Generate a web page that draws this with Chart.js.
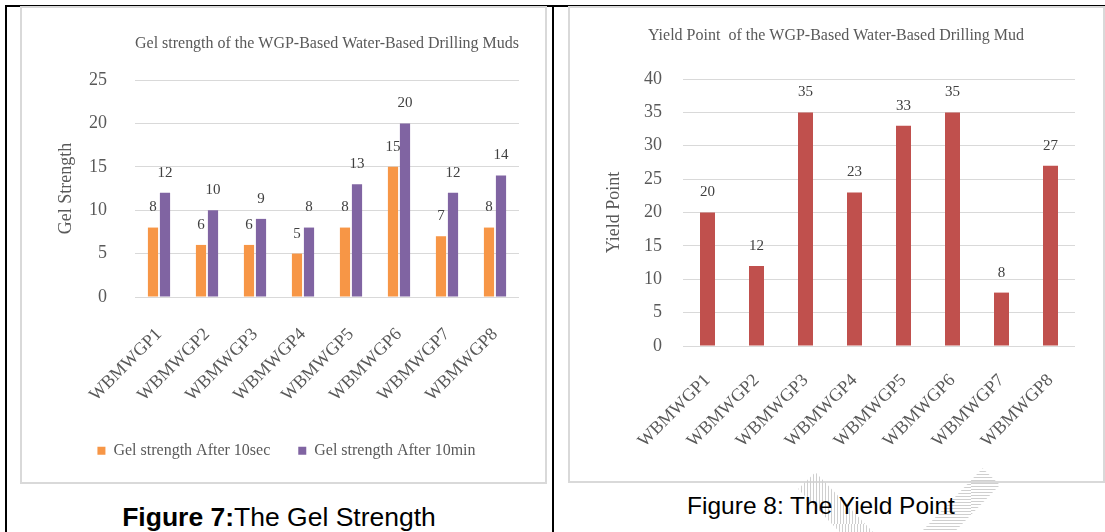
<!DOCTYPE html>
<html><head><meta charset="utf-8">
<script src="https://cdn.jsdelivr.net/npm/chart.js@4/dist/chart.umd.min.js"></script>
<style>
html,body{margin:0;padding:0;background:#fff;}
body{width:1105px;height:532px;position:relative;overflow:hidden;}
.bl{position:absolute;background:#000;}
.frame{position:absolute;box-sizing:border-box;border:2px solid #d9d9d9;}
canvas{position:absolute;}
.cap{position:absolute;font-family:"Liberation Sans",Arial,sans-serif;color:#000;white-space:nowrap;transform:translateX(-50%);}
.wm{position:absolute;width:24px;height:90px;background:repeating-linear-gradient(135deg,#cfcfcf 0 1px,rgba(255,255,255,0) 1px 3px);}
</style></head><body>
<div class="bl" style="left:5px;top:5px;width:1100px;height:2px"></div>
<div class="bl" style="left:5px;top:5px;width:2px;height:527px"></div>
<div class="bl" style="left:552px;top:5px;width:2px;height:527px"></div>
<div class="frame" style="left:20px;top:6px;width:527px;height:478px"></div>
<div class="frame" style="left:568px;top:6px;width:537px;height:477px"></div>
<div class="wm" style="left:826px;top:468px;transform:rotate(-44deg)"></div>
<div class="wm" style="left:948px;top:464px;transform:rotate(44deg)"></div>
<canvas id="gel" width="523" height="474" style="left:22px;top:8px"></canvas>
<canvas id="yp" width="532" height="474" style="left:570px;top:8px"></canvas>
<div class="cap" style="left:279px;top:504px;font-size:26.5px;line-height:26.5px"><b>Figure 7:</b>The Gel Strength</div>
<div class="cap" style="left:821px;top:494px;font-size:24.5px;line-height:24.5px">Figure 8: The Yield Point</div>
<script>
const categories = ['WBMWGP1','WBMWGP2','WBMWGP3','WBMWGP4','WBMWGP5','WBMWGP6','WBMWGP7','WBMWGP8'];
const gelAfter10sec = [8, 6, 6, 5, 8, 15, 7, 8];
const gelAfter10min = [12, 10, 9, 8, 13, 20, 12, 14];
const yieldPoint = [20, 12, 35, 23, 33, 35, 8, 27];
const gelYTicks = [0, 5, 10, 15, 20, 25];
const yieldYTicks = [0, 5, 10, 15, 20, 25, 30, 35, 40];
const seriesNames = ['Gel strength After 10sec', 'Gel strength After 10min'];

const SERIF = '"Liberation Serif","Times New Roman",serif';
const GREY = '#595959';

const valueLabels = {
  id: 'valueLabels',
  afterDatasetsDraw(chart, args, opts) {
    const ctx = chart.ctx;
    ctx.save();
    ctx.font = opts.size + 'px ' + SERIF;
    ctx.fillStyle = opts.color;
    ctx.textAlign = 'center';
    ctx.textBaseline = 'middle';
    chart.data.datasets.forEach((ds, i) => {
      const meta = chart.getDatasetMeta(i);
      meta.data.forEach((bar, j) => {
        ctx.fillText(String(ds.data[j]), bar.x, bar.y - opts.offset);
      });
    });
    ctx.restore();
  }
};

function yAxis(ticks, width, titleText, titlePad, tickPad) {
  return {
    min: ticks[0], max: ticks[ticks.length - 1],
    afterFit(s) { s.width = width; },
    afterBuildTicks(s) { s.ticks = ticks.map(v => ({value: v})); },
    grid: {color: '#d9d9d9', lineWidth: 1, drawTicks: false},
    border: {display: false},
    ticks: {padding: tickPad, color: GREY, font: {family: SERIF, size: 18}},
    title: {display: true, text: titleText, color: GREY, font: {family: SERIF, size: 18}, padding: {top: titlePad, bottom: 0}}
  };
}
function xAxis(height, pad) {
  return {
    afterFit(s) { s.height = height; },
    grid: {display: false, drawTicks: false},
    border: {display: false},
    ticks: {padding: pad, minRotation: 45, maxRotation: 45, autoSkip: false, color: GREY, font: {family: SERIF, size: 18}}
  };
}

new Chart(document.getElementById('gel'), {
  type: 'bar',
  data: {
    labels: categories,
    datasets: [
      {label: seriesNames[0], data: gelAfter10sec, backgroundColor: '#F79646', categoryPercentage: 0.5, barPercentage: 0.85},
      {label: seriesNames[1], data: gelAfter10min, backgroundColor: '#8064A2', categoryPercentage: 0.5, barPercentage: 0.85}
    ]
  },
  options: {
    responsive: false, animation: false, devicePixelRatio: 1,
    layout: {padding: {left: 32, right: 26, top: 0, bottom: 13.3}},
    scales: {x: xAxis(117.7, 27), y: yAxis(gelYTicks, 81, 'Gel Strength', 1, 28)},
    plugins: {
      title: {display: true, fullSize: false, text: 'Gel strength of the WGP-Based Water-Based Drilling Muds', color: GREY,
        font: {family: SERIF, size: 16, weight: 'normal'}, padding: {top: 25.7, bottom: 27.1}},
      legend: {position: 'bottom', labels: {color: GREY, font: {family: SERIF, size: 16}, boxWidth: 8, boxHeight: 8, padding: 28}},
      tooltip: {enabled: false},
      valueLabels: {size: 15, color: '#404040', offset: 20}
    }
  },
  plugins: [valueLabels]
});

new Chart(document.getElementById('yp'), {
  type: 'bar',
  data: {
    labels: categories,
    datasets: [
      {label: 'Yield Point', data: yieldPoint, backgroundColor: '#C0504D', categoryPercentage: 0.34, barPercentage: 0.9}
    ]
  },
  options: {
    responsive: false, animation: false, devicePixelRatio: 1,
    layout: {padding: {left: 27, right: 27, top: 0, bottom: 0}},
    scales: {x: xAxis(136, 24), y: yAxis(yieldYTicks, 86, 'Yield Point', 6.2, 21)},
    plugins: {
      title: {display: true, text: 'Yield Point  of the WGP-Based Water-Based Drilling Mud', color: GREY,
        font: {family: SERIF, size: 16, weight: 'normal'}, padding: {top: 18.4, bottom: 33.4}},
      legend: {display: false},
      tooltip: {enabled: false},
      valueLabels: {size: 15, color: '#404040', offset: 20}
    }
  },
  plugins: [valueLabels]
});
</script>
</body></html>
